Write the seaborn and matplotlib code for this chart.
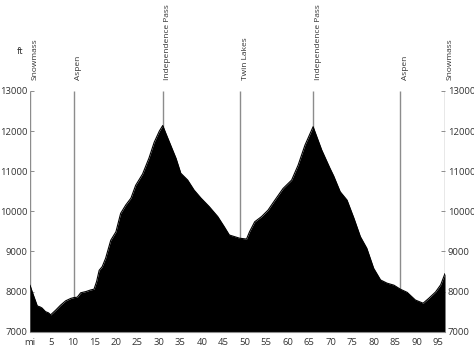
import matplotlib
matplotlib.use("Agg")
import matplotlib.pyplot as plt
import seaborn as sns
import numpy as np
import pandas as pd

# ---- data ----
miles = [0, 0.5, 1.0, 1.7, 2.3, 2.8, 3.6, 4.3, 4.8, 5.4, 6.0, 7.1, 8.3, 9.5, 10.2, 11.0,
         11.8, 13.0, 14.1, 14.9, 15.5, 16.1, 16.8, 17.6, 18.8, 20.0, 21.1, 22.3, 23.5,
         24.6, 26.2, 27.7, 28.9, 30.1, 30.9, 31.6, 32.4, 34.0, 35.1, 36.7, 38.2, 39.8,
         41.7, 43.7, 45.2, 46.4, 47.6, 48.8, 50.4, 51.1, 52.3, 53.9, 55.4, 57.0, 58.9,
         60.9, 62.4, 64.0, 65.9, 67.9, 69.8, 70.7, 72.2, 73.8, 75.4, 76.9, 78.4, 80.0,
         81.6, 83.1, 84.7, 86.2, 87.8, 89.7, 91.5, 92.8, 94.4, 95.6, 96.6]
elevation = [8160, 8000, 7850, 7640, 7620, 7590, 7500, 7470, 7420, 7480, 7540, 7660, 7770,
             7830, 7850, 7860, 7970, 8000, 8040, 8060, 8250, 8530, 8620, 8830, 9280, 9490,
             9950, 10160, 10330, 10650, 10930, 11330, 11720, 12000, 12140, 11950, 11740,
             11320, 10950, 10780, 10530, 10330, 10120, 9870, 9620, 9410, 9370, 9330, 9310,
             9490, 9740, 9870, 10030, 10280, 10570, 10780, 11150, 11650, 12110, 11530,
             11080, 10880, 10490, 10280, 9830, 9370, 9080, 8580, 8290, 8210, 8160, 8060,
             7980, 7790, 7710, 7830, 7990, 8170, 8450]

place_names = ["Snowmass", "Aspen", "Independence Pass", "Twin Lakes",
               "Independence Pass", "Aspen", "Snowmass"]
place_miles = [0, 10.2, 30.9, 48.9, 65.9, 86.2, 96.6]

x_ticks = [0, 5, 10, 15, 20, 25, 30, 35, 40, 45, 50, 55, 60, 65, 70, 75, 80, 85, 90, 95]
x_tick_labels = ["mi", "5", "10", "15", "20", "25", "30", "35", "40", "45", "50", "55",
                 "60", "65", "70", "75", "80", "85", "90", "95"]
y_ticks = [7000, 8000, 9000, 10000, 11000, 12000, 13000]

df = pd.DataFrame({"mile": miles, "elev": elevation})

sns.set_theme(style="white")
plt.rcParams["font.family"] = ["Open Sans", "DejaVu Sans"]

fig = plt.figure(figsize=(4.74, 3.55), dpi=100)
ax = fig.add_axes([30 / 474, 1 - 331.7 / 355, 415 / 474, (331.7 - 91) / 355])

YMIN, YMAX = 7000, 13000
XMAX = 96.6

# marker lines behind the fill
ax.vlines(place_miles, YMIN, YMAX, colors="#8c8c8c", linewidth=1.0, zorder=1)

ax.fill_between(df["mile"], YMIN, df["elev"], color="black", linewidth=0, zorder=2)
sns.lineplot(data=df, x="mile", y="elev", ax=ax, color="black", linewidth=0.8, zorder=3)

ax.set_xlim(0, XMAX)
ax.set_ylim(YMIN, YMAX)
ax.set_xlabel("")
ax.set_ylabel("")

ax.set_xticks(x_ticks)
ax.set_xticklabels(x_tick_labels)
ax.set_xticks(np.arange(0, 97, 1), minor=True)
ax.set_yticks(y_ticks)
ax.set_yticklabels([str(v) for v in y_ticks])

for s in ["top", "left", "right"]:
    ax.spines[s].set_visible(False)
ax.spines["bottom"].set_color("#8c8c8c")
ax.spines["bottom"].set_linewidth(0.8)

ax.tick_params(axis="x", which="major", direction="out", length=3, width=0.7,
               color="#8c8c8c", labelsize=6.8, labelcolor="#333333", pad=1.5)
ax.tick_params(axis="x", which="minor", direction="out", length=1.5, width=0.6,
               color="#8c8c8c")
ax.tick_params(axis="y", which="major", direction="in", length=3, width=0.7,
               color="#8c8c8c", labelsize=6.8, labelcolor="#333333", pad=2,
               left=True, right=True, labelleft=True, labelright=True)

# place labels above the plot
for name, m in zip(place_names, place_miles):
    ax.annotate(name, xy=(m, YMAX), xycoords="data", xytext=(1.2, 8),
                textcoords="offset points", rotation=90, ha="left", va="bottom",
                fontsize=6.0, color="#333333", annotation_clip=False)

fig.text(20 / 474, 1 - 52 / 355, "ft", ha="center", va="center", fontsize=6.8,
         color="#333333")

fig.savefig("out.png", dpi=100, facecolor="white")
